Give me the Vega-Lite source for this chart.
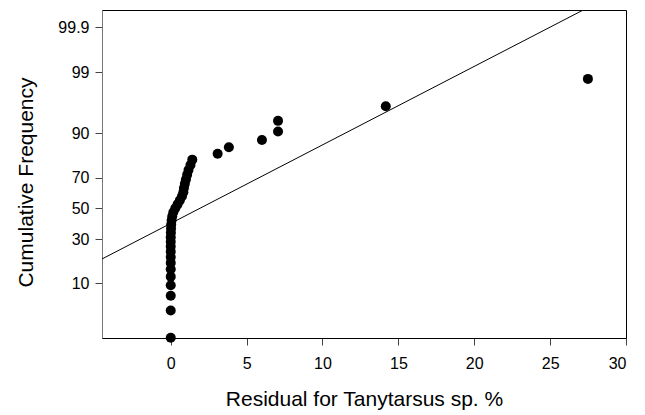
{
  "$schema": "https://vega.github.io/schema/vega-lite/v6.json",
  "width": 524,
  "height": 328,
  "autosize": {"type": "none"},
  "padding": {"left": 102, "top": 10, "right": 19, "bottom": 77},
  "background": "white",
  "config": {
    "view": {"stroke": "#000", "strokeWidth": 1},
    "font": "Liberation Sans"
  },
  "datasets": {
    "points": [
      {"residual": 0.0, "z": -2.211},
      {"residual": 0.0, "z": -1.744},
      {"residual": 0.0, "z": -1.494},
      {"residual": 0.0, "z": -1.313},
      {"residual": 0.0, "z": -1.167},
      {"residual": 0.0, "z": -1.042},
      {"residual": 0.0, "z": -0.932},
      {"residual": 0.0, "z": -0.832},
      {"residual": 0.0, "z": -0.740},
      {"residual": 0.0, "z": -0.653},
      {"residual": 0.0, "z": -0.572},
      {"residual": 0.0, "z": -0.494},
      {"residual": 0.01, "z": -0.418},
      {"residual": 0.02, "z": -0.346},
      {"residual": 0.03, "z": -0.275},
      {"residual": 0.06, "z": -0.205},
      {"residual": 0.1, "z": -0.136},
      {"residual": 0.17, "z": -0.068},
      {"residual": 0.3, "z": 0.0},
      {"residual": 0.45, "z": 0.068},
      {"residual": 0.6, "z": 0.136},
      {"residual": 0.74, "z": 0.205},
      {"residual": 0.83, "z": 0.275},
      {"residual": 0.87, "z": 0.346},
      {"residual": 0.93, "z": 0.418},
      {"residual": 1.0, "z": 0.494},
      {"residual": 1.08, "z": 0.572},
      {"residual": 1.17, "z": 0.653},
      {"residual": 1.3, "z": 0.740},
      {"residual": 1.42, "z": 0.832},
      {"residual": 3.09, "z": 0.932},
      {"residual": 3.83, "z": 1.042},
      {"residual": 6.01, "z": 1.167},
      {"residual": 7.07, "z": 1.313},
      {"residual": 7.07, "z": 1.494},
      {"residual": 14.17, "z": 1.744},
      {"residual": 27.49, "z": 2.211}
    ],
    "fit": [
      {"residual": -4.53, "z": -0.865},
      {"residual": 30, "z": 3.766}
    ]
  },
  "layer": [
    {
      "data": {"name": "fit"},
      "mark": {"type": "line", "color": "#000", "strokeWidth": 1, "clip": true},
      "encoding": {
        "x": {"field": "residual", "type": "quantitative"},
        "y": {"field": "z", "type": "quantitative"}
      }
    },
    {
      "data": {"name": "points"},
      "mark": {"type": "circle", "color": "#000", "opacity": 1, "size": 100, "clip": false},
      "encoding": {
        "x": {
          "field": "residual",
          "type": "quantitative",
          "scale": {"domain": [-4.53, 30], "nice": false, "zero": false},
          "axis": {
            "title": "Residual for Tanytarsus sp. %",
            "values": [0, 5, 10, 15, 20, 25, 30],
            "grid": false,
            "domainColor": "#000",
            "tickColor": "#444",
            "tickSize": 7,
            "labelPadding": 10,
            "labelFontSize": 16,
            "labelColor": "#000",
            "labelFont": "Liberation Sans",
            "titleFont": "Liberation Sans",
            "titleFontSize": 21,
            "titleFontWeight": "normal",
            "titleColor": "#000",
            "titlePadding": 17
          }
        },
        "y": {
          "field": "z",
          "type": "quantitative",
          "scale": {"domain": [-2.215, 3.388], "nice": false, "zero": false},
          "axis": {
            "title": "Cumulative Frequency",
            "values": [-1.2816, -0.5244, 0, 0.5244, 1.2816, 2.3263, 3.0902],
            "labelExpr": "datum.value < -1 ? '10' : datum.value < -0.3 ? '30' : datum.value < 0.3 ? '50' : datum.value < 1 ? '70' : datum.value < 2 ? '90' : datum.value < 3 ? '99' : '99.9'",
            "grid": false,
            "domainColor": "#777",
            "tickColor": "#444",
            "tickSize": 7,
            "labelPadding": 6,
            "labelFontSize": 16,
            "labelColor": "#000",
            "labelFont": "Liberation Sans",
            "titleFont": "Liberation Sans",
            "titleFontSize": 21,
            "titleFontWeight": "normal",
            "titleColor": "#000",
            "titlePadding": 21,
            "titleY": 172
          }
        }
      }
    }
  ]
}
